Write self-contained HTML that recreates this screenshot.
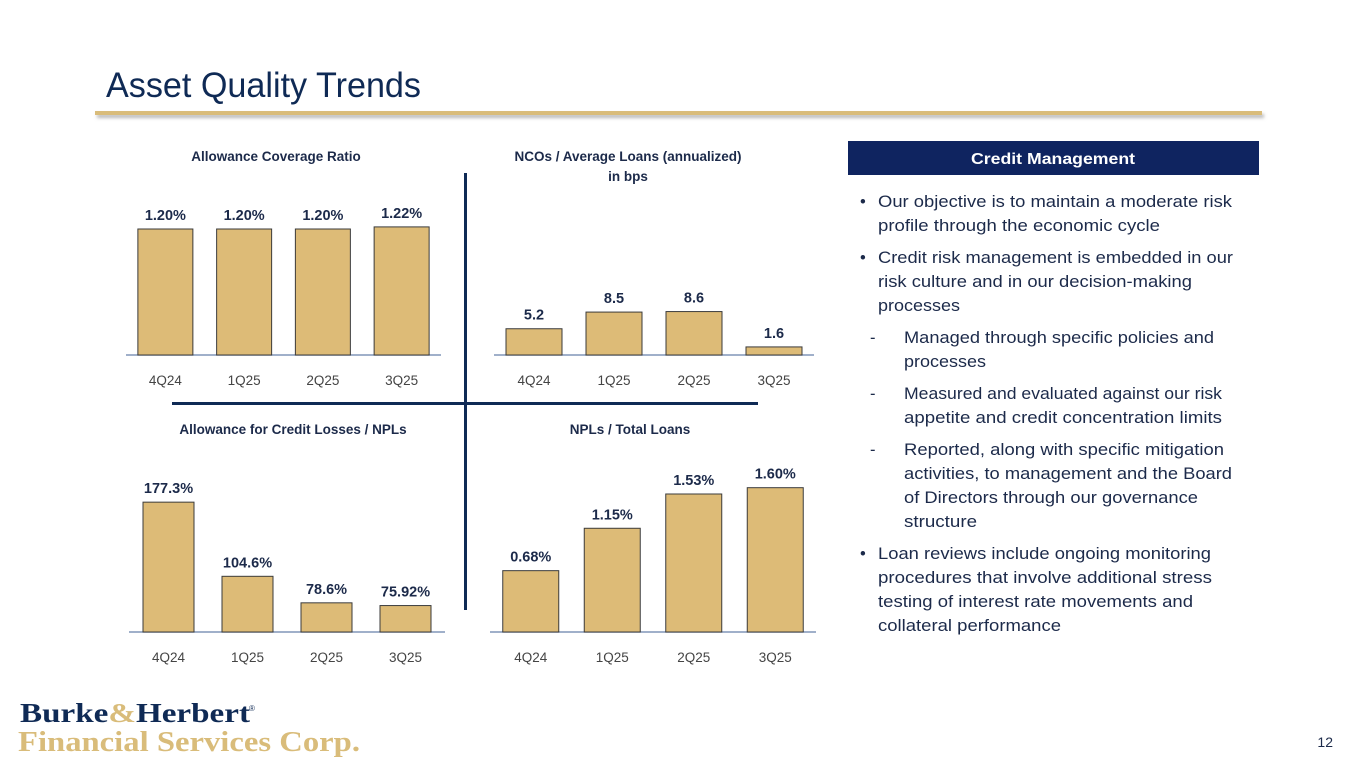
<!DOCTYPE html>
<html><head><meta charset="utf-8"><style>
body{margin:0;background:#fff}
svg{display:block;font-family:"Liberation Sans",sans-serif}
</style></head><body>
<svg id="s" width="1365" height="768" viewBox="0 0 1365 768">
<defs><filter id="sh" x="-5%" y="-200%" width="110%" height="500%"><feDropShadow dx="2" dy="3" stdDeviation="1.5" flood-color="#8a8a8a" flood-opacity="0.6"/></filter></defs>
<text x="106" y="97" font-size="35" fill="#0F2A55" textLength="315" lengthAdjust="spacingAndGlyphs">Asset Quality Trends</text>
<rect x="95" y="111" width="1167" height="4" fill="#D9BC7A" filter="url(#sh)"/>
<rect x="464" y="173" width="3" height="437" fill="#0F2A55"/>
<rect x="172" y="402" width="586" height="3" fill="#0F2A55"/>
<g id="charts"></g>
<rect x="848" y="141" width="411" height="34" fill="#0F2460"/>
<text x="1053" y="164" font-size="16" font-weight="bold" fill="#fff" text-anchor="middle" textLength="164" lengthAdjust="spacingAndGlyphs">Credit Management</text>
<g id="body" font-size="16.5" fill="#1C2A4A"></g>
<text x="20" y="722" font-family="Liberation Serif,serif" font-size="27" font-weight="bold" fill="#0F2A55" textLength="230" lengthAdjust="spacingAndGlyphs">Burke<tspan fill="#D9BC7A">&amp;</tspan>Herbert</text>
<text x="249" y="711" font-size="8" fill="#0F2A55">®</text>
<text x="18" y="751" font-family="Liberation Serif,serif" font-size="29" font-weight="bold" fill="#D9BC7A" textLength="342" lengthAdjust="spacingAndGlyphs">Financial Services Corp.</text>
<text x="1333" y="747" font-size="14" fill="#1C2A4A" text-anchor="end">12</text>
</svg>
<script>
const categories=["4Q24","1Q25","2Q25","3Q25"];
const coverageValues=[1.20,1.20,1.20,1.22];
const coverageLabels=["1.20%","1.20%","1.20%","1.22%"];
const ncoValues=[5.2,8.5,8.6,1.6];
const ncoLabels=["5.2","8.5","8.6","1.6"];
const aclNplValues=[177.3,104.6,78.6,75.92];
const aclNplLabels=["177.3%","104.6%","78.6%","75.92%"];
const nplValues=[0.68,1.15,1.53,1.60];
const nplLabels=["0.68%","1.15%","1.53%","1.60%"];
const NS="http://www.w3.org/2000/svg";
const g=document.getElementById('charts');
function mk(tag,attrs,txt){const e=document.createElementNS(NS,tag);for(const k in attrs)e.setAttribute(k,attrs[k]);if(txt!=null)e.textContent=txt;return e;}
function chart(name,vals,labels,o){
  const grp=mk('g',{});
  
  
  g.appendChild(grp);
  const y=v=>o.base-(v-o.min)*o.k;
  const ax=mk('line',{x1:o.ax0,x2:o.ax1,y1:o.base,y2:o.base,stroke:'#8096B8','stroke-width':1.5});
  
  
  grp.appendChild(ax);
  const slot=(o.ax1-o.ax0)/vals.length;
  vals.forEach((v,i)=>{
    const cx=o.ax0+slot*(i+0.5);
    const top=y(v);
    const r=mk('rect',{x:cx-o.bw/2,y:top,width:o.bw,height:o.base-top,fill:'#DDBB77',stroke:'#3b3b3b','stroke-width':1});
    
    
    grp.appendChild(r);
    const t=mk('text',{x:cx,y:top-9,'text-anchor':'middle','font-size':14.5,'font-weight':'bold',fill:'#1C2A4A'},labels[i]);
    
    
    grp.appendChild(t);
    const c=mk('text',{x:cx,y:o.base+30,'text-anchor':'middle','font-size':13.5,fill:'#444'},categories[i]);
    
    
    grp.appendChild(c);
  });
  o.titles.forEach((tt,j)=>{
    const t=mk('text',{x:o.tx,y:o.ty+j*20,'text-anchor':'middle','font-size':13.5,'font-weight':'bold',fill:'#1C2A4A'},tt);
    
    
    grp.appendChild(t);
  });
}
chart('allowance-coverage-chart',coverageValues,coverageLabels,{base:355,min:0,k:105,ax0:126,ax1:441,bw:55,tx:276,ty:161,titles:["Allowance Coverage Ratio"]});
chart('nco-chart',ncoValues,ncoLabels,{base:355,min:0,k:5.05,ax0:494,ax1:814,bw:56,tx:628,ty:161,titles:["NCOs / Average Loans (annualized)","in bps"]});
chart('acl-npl-chart',aclNplValues,aclNplLabels,{base:632,min:50,k:1.02,ax0:129,ax1:445,bw:51,tx:293,ty:434,titles:["Allowance for Credit Losses / NPLs"]});
chart('npl-chart',nplValues,nplLabels,{base:632,min:0,k:90.2,ax0:490,ax1:816,bw:56,tx:630,ty:434,titles:["NPLs / Total Loans"]});
const lines=[
 [878,207,"Our objective is to maintain a moderate risk",1],[878,231,"profile through the economic cycle",0],
 [878,263,"Credit risk management is embedded in our",1],[878,287,"risk culture and in our decision-making",0],[878,311,"processes",0],
 [904,343,"Managed through specific policies and",2],[904,367,"processes",0],
 [904,399,"Measured and evaluated against our risk",2],[904,423,"appetite and credit concentration limits",0],
 [904,455,"Reported, along with specific mitigation",2],[904,479,"activities, to management and the Board",0],[904,503,"of Directors through our governance",0],[904,527,"structure",0],
 [878,559,"Loan reviews include ongoing monitoring",1],[878,583,"procedures that involve additional stress",0],[878,607,"testing of interest rate movements and",0],[878,631,"collateral performance",0]];
const widths={"Our objective is to maintain a moderate risk":354,"Credit risk management is embedded in our":355,"Managed through specific policies and":310,"Measured and evaluated against our risk":318,"Reported, along with specific mitigation":320,"activities, to management and the Board":328,"Loan reviews include ongoing monitoring":333,"procedures that involve additional stress":334,"testing of interest rate movements and":315,"appetite and credit concentration limits":318,"risk culture and in our decision-making":314,"profile through the economic cycle":282,"of Directors through our governance":294,"collateral performance":183,"processes":82,"structure":73};
const body=document.getElementById('body');
lines.forEach(l=>{
  const a={x:l[0],y:l[1]};
  if(widths[l[2]]){a.textLength=widths[l[2]];a.lengthAdjust='spacingAndGlyphs';}
  const t=mk('text',a,l[2]);
  
  
  body.appendChild(t);
  if(l[3]){
    const b=mk('text',{x:l[3]==1?860:870,y:l[1]},l[3]==1?"•":"-");
    
    
    body.appendChild(b);
  }
});
</script>
</body></html>
